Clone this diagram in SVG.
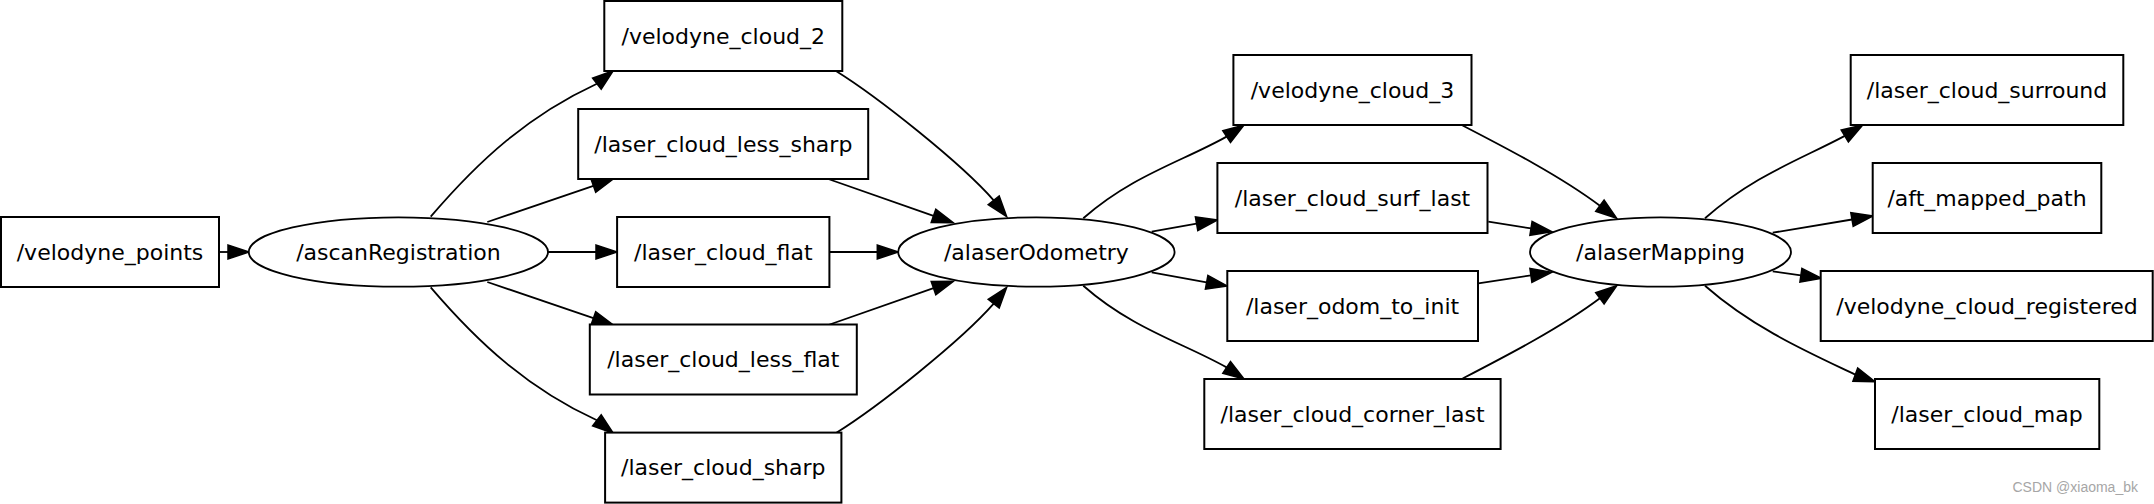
<svg xmlns="http://www.w3.org/2000/svg" width="2154" height="504" viewBox="0 0 2154 504">
<style>
.bg{fill:#ffffff}
.box{fill:#ffffff;stroke:#000000;stroke-width:2}
.ell{fill:#ffffff;stroke:#000000;stroke-width:1.8}
.lbl{font-family:"DejaVu Sans","Liberation Sans",sans-serif;font-size:22px;fill:#000000;text-anchor:middle}
.edge{fill:none;stroke:#000000;stroke-width:1.8}
.ah{fill:#000000;stroke:#000000;stroke-width:1.5;stroke-linejoin:miter}
.wm{font-family:"Liberation Sans",Arial,sans-serif;font-size:14px;fill:#a6a6a6}
</style>
<rect class="bg" x="0" y="0" width="2154" height="504"/>

<g id="connectors">
  <!-- velodyne_points -> ascanRegistration -->
  <path class="edge" d="M219,252 L228,252"/>
  <polygon class="ah" points="249,252 228,245 228,259"/>
  <!-- ascanRegistration -> velodyne_cloud_2 -->
  <path class="edge" d="M430.7,216.7 C479.5,159.7 528.7,115.2 596.9,83.7"/>
  <polygon class="ah" points="613.3,70.7 601.2,89.2 592.6,78.2"/>
  <!-- ascanRegistration -> laser_cloud_less_sharp -->
  <path class="edge" d="M487.3,222 L593.4,185.8"/>
  <polygon class="ah" points="613.3,179 595.7,192.4 591.1,179.2"/>
  <!-- ascanRegistration -> laser_cloud_flat -->
  <path class="edge" d="M548,252 L596,252"/>
  <polygon class="ah" points="617,252 596,245 596,259"/>
  <!-- ascanRegistration -> laser_cloud_less_flat -->
  <path class="edge" d="M487.3,282 L593.4,318.2"/>
  <polygon class="ah" points="613.3,325 591.1,324.8 595.7,311.6"/>
  <!-- ascanRegistration -> laser_cloud_sharp -->
  <path class="edge" d="M430.7,287.3 C479.5,344.3 528.7,388.8 596.9,420.3"/>
  <polygon class="ah" points="613.3,433.3 592.6,425.8 601.2,414.8"/>

  <!-- velodyne_cloud_2 -> alaserOdometry -->
  <path class="edge" d="M836,71 C878.5,97.5 960.7,162.8 993.7,200.3"/>
  <polygon class="ah" points="1006.7,216.7 988.2,204.6 999.2,196"/>
  <!-- laser_cloud_less_sharp -> alaserOdometry -->
  <path class="edge" d="M828.3,179 L933.5,215.8"/>
  <polygon class="ah" points="953.3,222.7 931.2,222.4 935.8,209.2"/>
  <!-- laser_cloud_flat -> alaserOdometry -->
  <path class="edge" d="M829.4,252 L877.3,252"/>
  <polygon class="ah" points="898.3,252 877.3,245 877.3,259"/>
  <!-- laser_cloud_less_flat -> alaserOdometry -->
  <path class="edge" d="M828.3,325 L933.5,288.2"/>
  <polygon class="ah" points="953.3,281.3 935.8,294.8 931.2,281.6"/>
  <!-- laser_cloud_sharp -> alaserOdometry -->
  <path class="edge" d="M836,433 C878.5,406.5 960.7,341.2 993.7,303.7"/>
  <polygon class="ah" points="1006.7,287.3 988.2,299.4 999.2,308"/>

  <!-- alaserOdometry -> velodyne_cloud_3 -->
  <path class="edge" d="M1083.3,218.3 C1132,175.4 1183.1,161.1 1226.6,136.6"/>
  <polygon class="ah" points="1244,125 1230.5,142.4 1222.8,130.8"/>
  <!-- alaserOdometry -> laser_cloud_surf_last -->
  <path class="edge" d="M1151.7,231.7 L1196.6,223.7"/>
  <polygon class="ah" points="1217.3,220 1197.8,230.6 1195.4,216.8"/>
  <!-- alaserOdometry -> laser_odom_to_init -->
  <path class="edge" d="M1151.7,272.3 L1206.6,282.3"/>
  <polygon class="ah" points="1227.3,286 1205.4,289.2 1207.9,275.4"/>
  <!-- alaserOdometry -> laser_cloud_corner_last -->
  <path class="edge" d="M1083.3,285.7 C1132,328.6 1183.1,342.9 1226.6,367.4"/>
  <polygon class="ah" points="1244,379 1222.8,373.2 1230.5,361.6"/>

  <!-- velodyne_cloud_3 -> alaserMapping -->
  <path class="edge" d="M1461.7,125 C1506.1,148 1559.9,175.7 1599.9,205.7"/>
  <polygon class="ah" points="1616.7,218.3 1595.7,211.3 1604.1,200.1"/>
  <!-- laser_cloud_surf_last -> alaserMapping -->
  <path class="edge" d="M1488.3,221.7 L1531,228.4"/>
  <polygon class="ah" points="1551.7,231.7 1529.9,235.3 1532.1,221.5"/>
  <!-- laser_odom_to_init -> alaserMapping -->
  <path class="edge" d="M1478.3,283.3 L1530.9,275.4"/>
  <polygon class="ah" points="1551.7,272.3 1531.9,282.3 1529.9,268.5"/>
  <!-- laser_cloud_corner_last -> alaserMapping -->
  <path class="edge" d="M1461.7,379 C1506.1,356 1559.9,328.3 1599.9,298.3"/>
  <polygon class="ah" points="1616.7,285.7 1604.1,303.9 1595.7,292.7"/>

  <!-- alaserMapping -> laser_cloud_surround -->
  <path class="edge" d="M1705,218.3 C1753.8,175.4 1800.8,159.4 1844.8,135.9"/>
  <polygon class="ah" points="1862.7,125 1848.4,141.9 1841.2,129.9"/>
  <!-- alaserMapping -> aft_mapped_path -->
  <path class="edge" d="M1772.7,232.7 L1852,219.5"/>
  <polygon class="ah" points="1872.7,216 1853.2,226.4 1850.8,212.6"/>
  <!-- alaserMapping -> velodyne_cloud_registered -->
  <path class="edge" d="M1772.7,271.3 L1800.9,275.3"/>
  <polygon class="ah" points="1821.7,278.3 1799.9,282.2 1801.9,268.4"/>
  <!-- alaserMapping -> laser_cloud_map -->
  <path class="edge" d="M1705,285.7 C1753.8,328.6 1810.3,353.1 1855.3,374.6"/>
  <polygon class="ah" points="1875,381.7 1852.9,381.2 1857.7,368"/>
</g>

<g id="velodyne_points">
  <rect class="box" x="1" y="217" width="218" height="70"/>
  <text class="lbl" x="110" y="259.5">/velodyne_points</text>
</g>
<g id="ascanRegistration">
  <ellipse class="ell" cx="398.4" cy="252" rx="149.6" ry="34.7"/>
  <text class="lbl" x="398.4" y="259.5">/ascanRegistration</text>
</g>

<g id="velodyne_cloud_2">
  <rect class="box" x="604.3" y="1" width="238" height="70"/>
  <text class="lbl" x="723.3" y="43.5">/velodyne_cloud_2</text>
</g>
<g id="laser_cloud_less_sharp">
  <rect class="box" x="578.2" y="109" width="290" height="70"/>
  <text class="lbl" x="723.3" y="151.5">/laser_cloud_less_sharp</text>
</g>
<g id="laser_cloud_flat">
  <rect class="box" x="617.1" y="217" width="212.3" height="70"/>
  <text class="lbl" x="723.3" y="259.5">/laser_cloud_flat</text>
</g>
<g id="laser_cloud_less_flat">
  <rect class="box" x="589.8" y="324.5" width="267" height="70"/>
  <text class="lbl" x="723.3" y="367">/laser_cloud_less_flat</text>
</g>
<g id="laser_cloud_sharp">
  <rect class="box" x="605.1" y="432.6" width="236.3" height="70"/>
  <text class="lbl" x="723.3" y="475">/laser_cloud_sharp</text>
</g>

<g id="alaserOdometry">
  <ellipse class="ell" cx="1036.4" cy="252" rx="138.2" ry="34.7"/>
  <text class="lbl" x="1036.4" y="259.5">/alaserOdometry</text>
</g>

<g id="velodyne_cloud_3">
  <rect class="box" x="1233.4" y="55" width="238.1" height="70"/>
  <text class="lbl" x="1352.5" y="97.5">/velodyne_cloud_3</text>
</g>
<g id="laser_cloud_surf_last">
  <rect class="box" x="1217.4" y="163" width="270.1" height="70"/>
  <text class="lbl" x="1352.5" y="205.5">/laser_cloud_surf_last</text>
</g>
<g id="laser_odom_to_init">
  <rect class="box" x="1227.3" y="271" width="250.7" height="70"/>
  <text class="lbl" x="1352.5" y="313.5">/laser_odom_to_init</text>
</g>
<g id="laser_cloud_corner_last">
  <rect class="box" x="1204.3" y="379" width="296.3" height="70"/>
  <text class="lbl" x="1352.5" y="421.5">/laser_cloud_corner_last</text>
</g>

<g id="alaserMapping">
  <ellipse class="ell" cx="1660.5" cy="252" rx="130.5" ry="34.7"/>
  <text class="lbl" x="1660.5" y="259.5">/alaserMapping</text>
</g>

<g id="laser_cloud_surround">
  <rect class="box" x="1850.7" y="55" width="272.6" height="70"/>
  <text class="lbl" x="1987" y="97.5">/laser_cloud_surround</text>
</g>
<g id="aft_mapped_path">
  <rect class="box" x="1872.7" y="163" width="228.6" height="70"/>
  <text class="lbl" x="1987" y="205.5">/aft_mapped_path</text>
</g>
<g id="velodyne_cloud_registered">
  <rect class="box" x="1820.7" y="271" width="332" height="70"/>
  <text class="lbl" x="1987" y="313.5">/velodyne_cloud_registered</text>
</g>
<g id="laser_cloud_map">
  <rect class="box" x="1875" y="379" width="224.3" height="70"/>
  <text class="lbl" x="1987" y="421.5">/laser_cloud_map</text>
</g>

<text class="wm" x="2012.5" y="492">CSDN @xiaoma_bk</text>
</svg>
